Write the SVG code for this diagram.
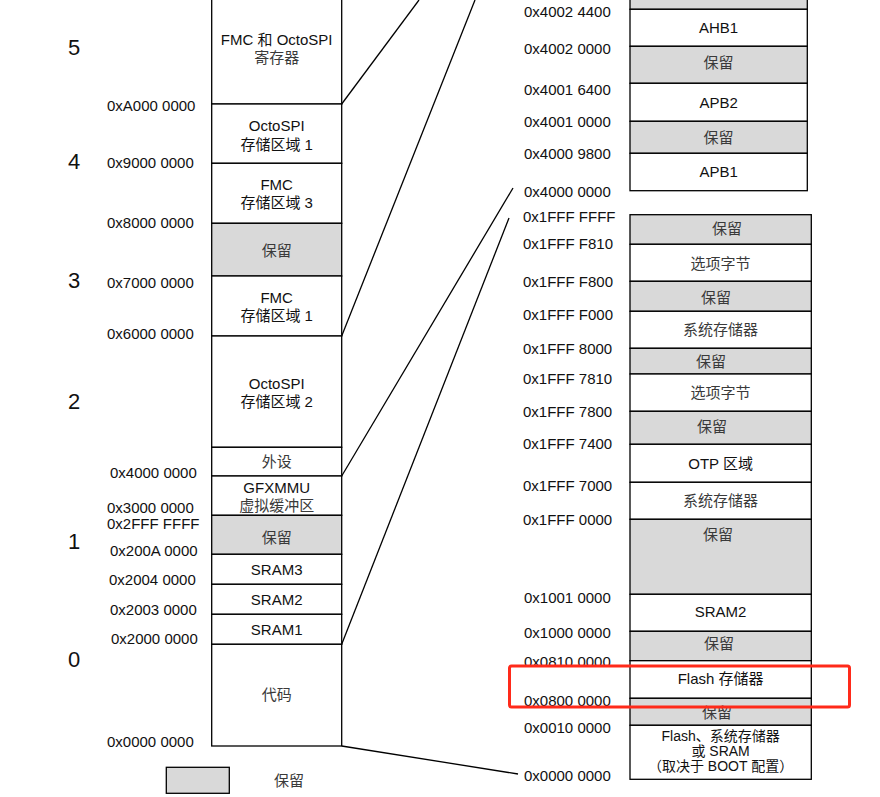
<svg xmlns="http://www.w3.org/2000/svg" width="880" height="797" viewBox="0 0 880 797">
<style>
text{font-family:"Liberation Sans","Noto Sans CJK SC",sans-serif;font-size:15px;fill:#111;dominant-baseline:central}
.c{text-anchor:middle}
.cj{fill:#3a3a3a}
.big{font-size:22px}
.sm{font-size:14px}
.w{fill:#fff;stroke:#000;stroke-width:1.3}
.g{fill:#d9d9d9;stroke:#000;stroke-width:1.3}
.ln{stroke:#000;stroke-width:1.3;fill:none}
</style>
<rect width="880" height="797" fill="#fff"/>
<g id="connectors">
<line class="ln" x1="341.7" y1="104" x2="419" y2="0"/>
<line class="ln" x1="341.7" y1="336" x2="475" y2="0"/>
<line class="ln" x1="341.7" y1="476" x2="513" y2="188"/>
<line class="ln" x1="341.7" y1="644.3" x2="509" y2="218"/>
<line class="ln" x1="341.7" y1="746" x2="518" y2="774"/>
</g>
<g id="region-numbers">
<text class="big" x="74" y="47" text-anchor="middle">5</text>
<text class="big" x="74" y="161" text-anchor="middle">4</text>
<text class="big" x="74" y="280" text-anchor="middle">3</text>
<text class="big" x="74" y="401" text-anchor="middle">2</text>
<text class="big" x="74" y="541" text-anchor="middle">1</text>
<text class="big" x="74" y="659" text-anchor="middle">0</text>
</g>
<g id="left-addresses">
<text x="107" y="105">0xA000 0000</text>
<text x="107" y="162">0x9000 0000</text>
<text x="107" y="222">0x8000 0000</text>
<text x="107" y="282">0x7000 0000</text>
<text x="107" y="333">0x6000 0000</text>
<text x="110" y="472">0x4000 0000</text>
<text x="107" y="507">0x3000 0000</text>
<text x="107" y="523">0x2FFF FFFF</text>
<text x="110" y="550">0x200A 0000</text>
<text x="109" y="579">0x2004 0000</text>
<text x="110" y="609">0x2003 0000</text>
<text x="111" y="638">0x2000 0000</text>
<text x="107" y="741">0x0000 0000</text>
</g>
<g id="L-fmc-octospi-reg"><rect class="w" x="211.7" y="-2" width="130" height="106"/><text class="c" x="276.7" y="39">FMC 和 OctoSPI</text><text class="c cj" x="276.7" y="57">寄存器</text></g>
<g id="L-octospi-bank1"><rect class="w" x="211.7" y="104" width="130" height="59.3"/><text class="c" x="276.7" y="125">OctoSPI</text><text class="c" x="276.7" y="144">存储区域 1</text></g>
<g id="L-fmc-bank3"><rect class="w" x="211.7" y="163.3" width="130" height="60"/><text class="c" x="276.7" y="184">FMC</text><text class="c" x="276.7" y="202">存储区域 3</text></g>
<g id="L-reserved-1"><rect class="g" x="211.7" y="223.3" width="130" height="52.7"/><text class="c cj" x="276.7" y="250">保留</text></g>
<g id="L-fmc-bank1"><rect class="w" x="211.7" y="276" width="130" height="60"/><text class="c" x="276.7" y="297">FMC</text><text class="c" x="276.7" y="315">存储区域 1</text></g>
<g id="L-octospi-bank2"><rect class="w" x="211.7" y="336" width="130" height="111.3"/><text class="c" x="276.7" y="383">OctoSPI</text><text class="c" x="276.7" y="401">存储区域 2</text></g>
<g id="L-periph"><rect class="w" x="211.7" y="447.3" width="130" height="28.7"/><text class="c cj" x="276.7" y="461">外设</text></g>
<g id="L-gfxmmu"><rect class="w" x="211.7" y="476" width="130" height="39.3"/><text class="c" x="276.7" y="487">GFXMMU</text><text class="c cj" x="276.7" y="505">虚拟缓冲区</text></g>
<g id="L-reserved-2"><rect class="g" x="211.7" y="515.3" width="130" height="39"/><text class="c cj" x="276.7" y="537">保留</text></g>
<g id="L-sram3"><rect class="w" x="211.7" y="554.3" width="130" height="30"/><text class="c" x="276.7" y="569">SRAM3</text></g>
<g id="L-sram2"><rect class="w" x="211.7" y="584.3" width="130" height="30"/><text class="c" x="276.7" y="599">SRAM2</text></g>
<g id="L-sram1"><rect class="w" x="211.7" y="614.3" width="130" height="30"/><text class="c" x="276.7" y="629">SRAM1</text></g>
<g id="L-code"><rect class="w" x="211.7" y="644.3" width="130" height="101.7"/><text class="c cj" x="276.7" y="694">代码</text></g>
<g id="legend"><rect class="g" x="166.3" y="767.3" width="63" height="26"/><text class="c cj" x="289" y="780">保留</text></g>
<g id="right-top-addresses">
<text x="524" y="11">0x4002 4400</text>
<text x="524" y="48">0x4002 0000</text>
<text x="524" y="89">0x4001 6400</text>
<text x="524" y="121">0x4001 0000</text>
<text x="524" y="153">0x4000 9800</text>
<text x="524" y="191">0x4000 0000</text>
</g>
<g id="R1-reserved-top"><rect class="g" x="630" y="-2" width="177.3" height="11.3"/></g>
<g id="R1-ahb1"><rect class="w" x="630" y="9.3" width="177.3" height="37"/><text class="c" x="718.6" y="27">AHB1</text></g>
<g id="R1-reserved-1"><rect class="g" x="630" y="46.3" width="177.3" height="37"/><text class="c cj" x="718.6" y="62">保留</text></g>
<g id="R1-apb2"><rect class="w" x="630" y="83.3" width="177.3" height="38"/><text class="c" x="718.6" y="102">APB2</text></g>
<g id="R1-reserved-2"><rect class="g" x="630" y="121.3" width="177.3" height="32"/><text class="c cj" x="718.6" y="137">保留</text></g>
<g id="R1-apb1"><rect class="w" x="630" y="153.3" width="177.3" height="37.4"/><text class="c" x="718.6" y="171">APB1</text></g>
<g id="right-bottom-addresses">
<text x="523" y="216">0x1FFF FFFF</text>
<text x="523" y="243">0x1FFF F810</text>
<text x="523" y="281">0x1FFF F800</text>
<text x="523" y="314">0x1FFF F000</text>
<text x="523" y="348">0x1FFF 8000</text>
<text x="523" y="378">0x1FFF 7810</text>
<text x="523" y="411">0x1FFF 7800</text>
<text x="523" y="443">0x1FFF 7400</text>
<text x="523" y="485">0x1FFF 7000</text>
<text x="523" y="519">0x1FFF 0000</text>
<text x="524" y="597">0x1001 0000</text>
<text x="524" y="632">0x1000 0000</text>
<text x="524" y="661">0x0810 0000</text>
<text x="524" y="700">0x0800 0000</text>
<text x="524" y="727">0x0010 0000</text>
<text x="524" y="775">0x0000 0000</text>
</g>
<g id="R2-reserved-1"><rect class="g" x="630" y="214.7" width="181.3" height="29.6"/><text class="c cj" x="727" y="228">保留</text></g>
<g id="R2-option-bytes-1"><rect class="w" x="630" y="244.3" width="181.3" height="37"/><text class="c cj" x="720.6" y="263">选项字节</text></g>
<g id="R2-reserved-2"><rect class="g" x="630" y="281.3" width="181.3" height="30"/><text class="c cj" x="716" y="297">保留</text></g>
<g id="R2-system-memory-1"><rect class="w" x="630" y="311.3" width="181.3" height="37"/><text class="c cj" x="720.6" y="329">系统存储器</text></g>
<g id="R2-reserved-3"><rect class="g" x="630" y="348.3" width="181.3" height="25.7"/><text class="c cj" x="711" y="361">保留</text></g>
<g id="R2-option-bytes-2"><rect class="w" x="630" y="374" width="181.3" height="37.3"/><text class="c cj" x="720.6" y="392">选项字节</text></g>
<g id="R2-reserved-4"><rect class="g" x="630" y="411.3" width="181.3" height="33"/><text class="c cj" x="712" y="426">保留</text></g>
<g id="R2-otp"><rect class="w" x="630" y="444.3" width="181.3" height="38"/><text class="c" x="720.6" y="463">OTP 区域</text></g>
<g id="R2-system-memory-2"><rect class="w" x="630" y="482.3" width="181.3" height="37"/><text class="c cj" x="720.6" y="500">系统存储器</text></g>
<g id="R2-reserved-5"><rect class="g" x="630" y="519.3" width="181.3" height="75"/><text class="c cj" x="718" y="534">保留</text></g>
<g id="R2-sram2"><rect class="w" x="630" y="594.3" width="181.3" height="37"/><text class="c" x="720.6" y="611">SRAM2</text></g>
<g id="R2-reserved-6"><rect class="g" x="630" y="631.3" width="181.3" height="29.4"/><text class="c cj" x="719" y="643">保留</text></g>
<g id="R2-flash"><rect class="w" x="630" y="660.7" width="181.3" height="37.6"/><text class="c" x="720.6" y="678">Flash 存储器</text></g>
<g id="R2-reserved-7"><rect class="g" x="630" y="698.3" width="181.3" height="27"/><text class="c cj" x="717" y="712">保留</text></g>
<g id="R2-boot"><rect class="w" x="630" y="725.3" width="181.3" height="54"/><text class="c sm" x="720.6" y="736">Flash、系统存储器</text><text class="c sm" x="720.6" y="751">或 SRAM</text><text class="c sm" x="720.6" y="766">（取决于 BOOT 配置）</text></g>
<g id="highlight"><rect x="509.5" y="666" width="340" height="41" rx="2" fill="none" stroke="#ff2a1a" stroke-width="3"/></g>
</svg>
